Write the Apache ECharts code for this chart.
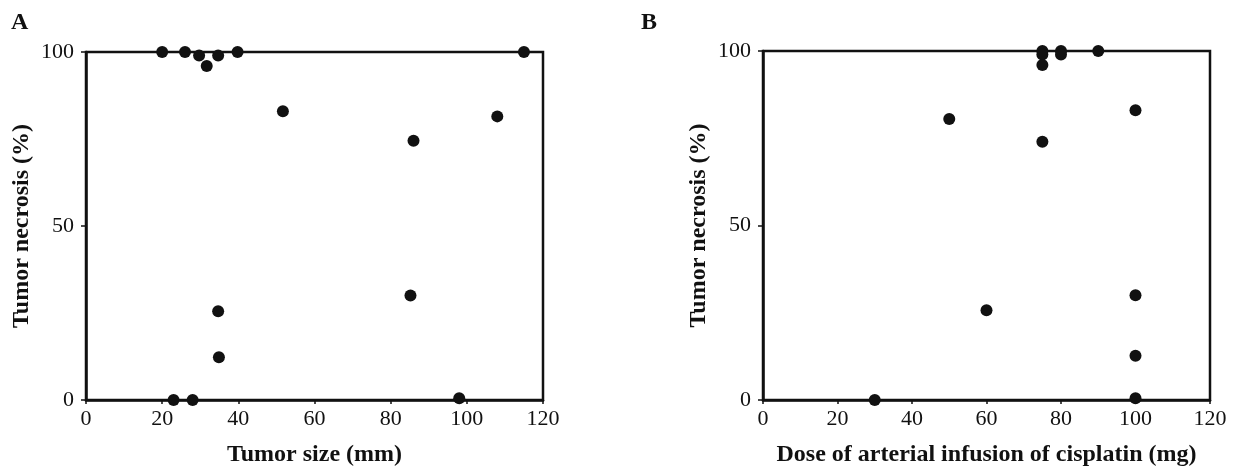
<!DOCTYPE html>
<html>
<head>
<meta charset="utf-8">
<script src="https://cdn.jsdelivr.net/npm/echarts@6/dist/echarts.min.js"></script>
<style>
html,body{margin:0;padding:0;background:#fff;}
#chart{width:1254px;height:467px;}
</style>
</head>
<body>
<div id="chart"></div>
<script>
// Panel A: tumor size (mm) vs tumor necrosis (%)
const sizeMm = [20, 26, 29.7, 31.7, 34.7, 39.8, 51.7, 86, 108, 115, 34.7, 85.2, 34.9, 23, 28, 98];
const necrosisA = [100, 100, 99, 96, 99, 100, 83, 74.5, 81.5, 100, 25.5, 30, 12.3, 0, 0, 0.5];
// Panel B: dose of cisplatin (mg) vs tumor necrosis (%)
const doseMg = [75, 75, 75, 75, 80, 80, 90, 50, 100, 60, 100, 100, 30, 100];
const necrosisB = [100, 99, 96, 74, 100, 99, 100, 80.5, 83, 25.7, 30, 12.7, 0, 0.5];
const xTicks = [0, 20, 40, 60, 80, 100, 120];
const yTicks = [0, 50, 100];

const chart = echarts.init(document.getElementById('chart'));
const serif = '"Liberation Serif", "DejaVu Serif", serif';

function xAxisCfg(idx, name) {
  return {
    type: 'value', gridIndex: idx, min: xTicks[0], max: xTicks[xTicks.length - 1], interval: 20,
    name: name, nameLocation: 'middle', nameGap: 43,
    nameTextStyle: {fontFamily: serif, fontWeight: 'bold', fontSize: 24, color: '#111'},
    axisLine: {show: true, lineStyle: {color: '#111', width: 2.5}},
    axisTick: {show: true, length: 4, lineStyle: {color: '#111', width: 1.5}},
    axisLabel: {fontFamily: serif, fontSize: 22, color: '#111', margin: 8},
    splitLine: {show: false}
  };
}
function yAxisCfg(idx) {
  return {
    type: 'value', gridIndex: idx, min: yTicks[0], max: yTicks[yTicks.length - 1], interval: 50,
    name: 'Tumor necrosis (%)', nameLocation: 'middle', nameGap: 52,
    nameTextStyle: {fontFamily: serif, fontWeight: 'bold', fontSize: 24, color: '#111'},
    axisLine: {show: true, lineStyle: {color: '#111', width: 2.5}},
    axisTick: {show: true, length: 5, lineStyle: {color: '#111', width: 1.5}},
    axisLabel: {fontFamily: serif, fontSize: 22, color: '#111', margin: 12},
    splitLine: {show: false}
  };
}

chart.setOption({
  backgroundColor: '#fff',
  animation: false,
  title: [
    {text: 'A', left: 6, top: 6, textStyle: {fontFamily: serif, fontWeight: 'bold', fontSize: 24, color: '#111'}},
    {text: 'B', left: 636, top: 6, textStyle: {fontFamily: serif, fontWeight: 'bold', fontSize: 24, color: '#111'}}
  ],
  grid: [
    {left: 86, right: 711, top: 52, bottom: 67, containLabel: false, outerBoundsMode: 'none',
     show: true, borderColor: '#111', borderWidth: 2.5, backgroundColor: 'transparent'},
    {left: 763, right: 44, top: 51, bottom: 67, containLabel: false, outerBoundsMode: 'none',
     show: true, borderColor: '#111', borderWidth: 2.5, backgroundColor: 'transparent'}
  ],
  xAxis: [xAxisCfg(0, 'Tumor size (mm)'), xAxisCfg(1, 'Dose of arterial infusion of cisplatin (mg)')],
  yAxis: [yAxisCfg(0), yAxisCfg(1)],
  series: [
    {type: 'scatter', xAxisIndex: 0, yAxisIndex: 0, symbolSize: 12, itemStyle: {color: '#111', opacity: 1},
     data: sizeMm.map((x, i) => [x, necrosisA[i]]), clip: false},
    {type: 'scatter', xAxisIndex: 1, yAxisIndex: 1, symbolSize: 12, itemStyle: {color: '#111', opacity: 1},
     data: doseMg.map((x, i) => [x, necrosisB[i]]), clip: false}
  ]
});
</script>
</body>
</html>
